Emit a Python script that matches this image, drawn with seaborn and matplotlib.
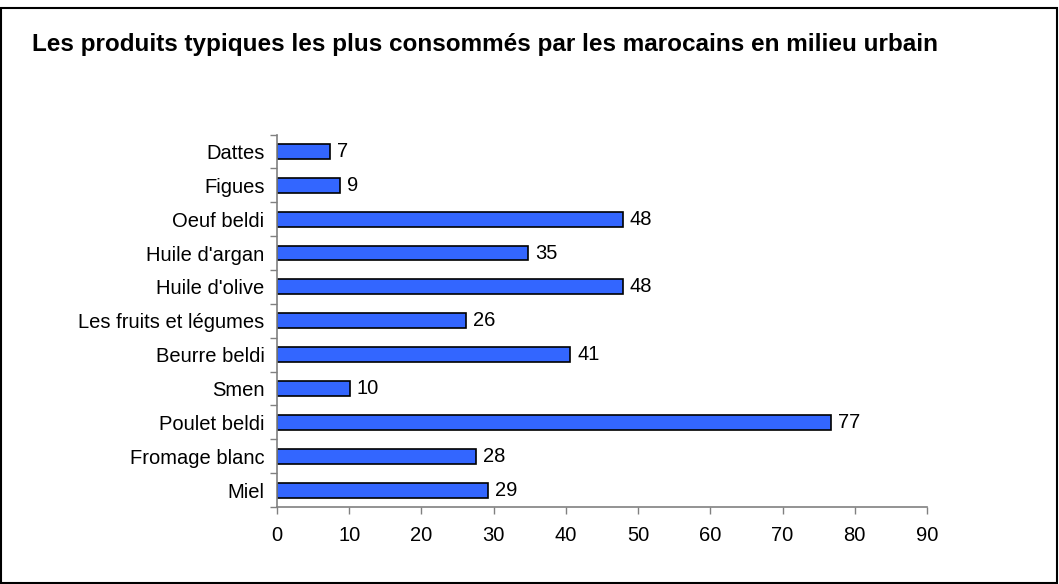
import matplotlib
matplotlib.use("Agg")
import matplotlib.pyplot as plt
import seaborn as sns
import numpy as np
from matplotlib.patches import Rectangle

# Data (top to bottom)
categories = ["Dattes", "Figues", "Oeuf beldi", "Huile d'argan", "Huile d'olive",
              "Les fruits et légumes", "Beurre beldi", "Smen", "Poulet beldi",
              "Fromage blanc", "Miel"]
values = [7.3, 8.7, 47.9, 34.8, 47.9, 26.2, 40.6, 10.1, 76.7, 27.6, 29.2]
x_ticks = [0, 10, 20, 30, 40, 50, 60, 70, 80, 90]
title = "Les produits typiques les plus consommés par les marocains en milieu urbain"

sns.set_style("white")
plt.rcParams["font.family"] = ["Liberation Sans", "DejaVu Sans"]
plt.rcParams["text.color"] = "black"
plt.rcParams["xtick.labelcolor"] = "black"
plt.rcParams["ytick.labelcolor"] = "black"

fig = plt.figure(figsize=(10.59, 5.84), dpi=100)
ax = fig.add_axes([277 / 1059, 1 - 507 / 584, 650 / 1059, (507 - 134.5) / 584])

sns.barplot(x=values, y=categories, orient="h", color="#3366FF", saturation=1,
            edgecolor="black", linewidth=1.2, width=0.44, ax=ax)

# value labels next to each bar
ax.bar_label(ax.containers[0], labels=[f"{v:.0f}" for v in values],
             padding=5, fontsize=14.5, color="black")

ax.set_xlim(0, 90)
ax.set_xticks(x_ticks)
ax.set_ylim(len(categories) - 0.5, -0.5)
ax.set_xlabel("")
ax.set_ylabel("")

# ticks on category boundaries for the y axis
ax.set_yticks(np.arange(len(categories)))
ax.set_yticks(np.arange(len(categories) + 1) - 0.5, minor=True)
ax.tick_params(axis="y", which="major", length=0, pad=9, labelsize=14.5, labelcolor="black")
ax.tick_params(axis="y", which="minor", length=5, width=1, color="#808080", direction="out", left=True)
ax.tick_params(axis="x", length=5, width=1, color="#808080", direction="out", pad=9,
               labelsize=14.5, labelcolor="black", bottom=True)

for side in ["top", "right"]:
    ax.spines[side].set_visible(False)
for side in ["left", "bottom"]:
    ax.spines[side].set_color("#808080")
    ax.spines[side].set_linewidth(1.2)

fig.text(32 / 1059, 1 - 45 / 584, title, fontsize=17.5, fontweight="bold",
         va="center", ha="left", color="black")

# outer frame
fig.patches.append(Rectangle((1 / 1059, 1 / 584), 1056 / 1059, 575 / 584, transform=fig.transFigure,
                             fill=False, edgecolor="black", linewidth=1.5))

fig.savefig("out.png", dpi=100)
